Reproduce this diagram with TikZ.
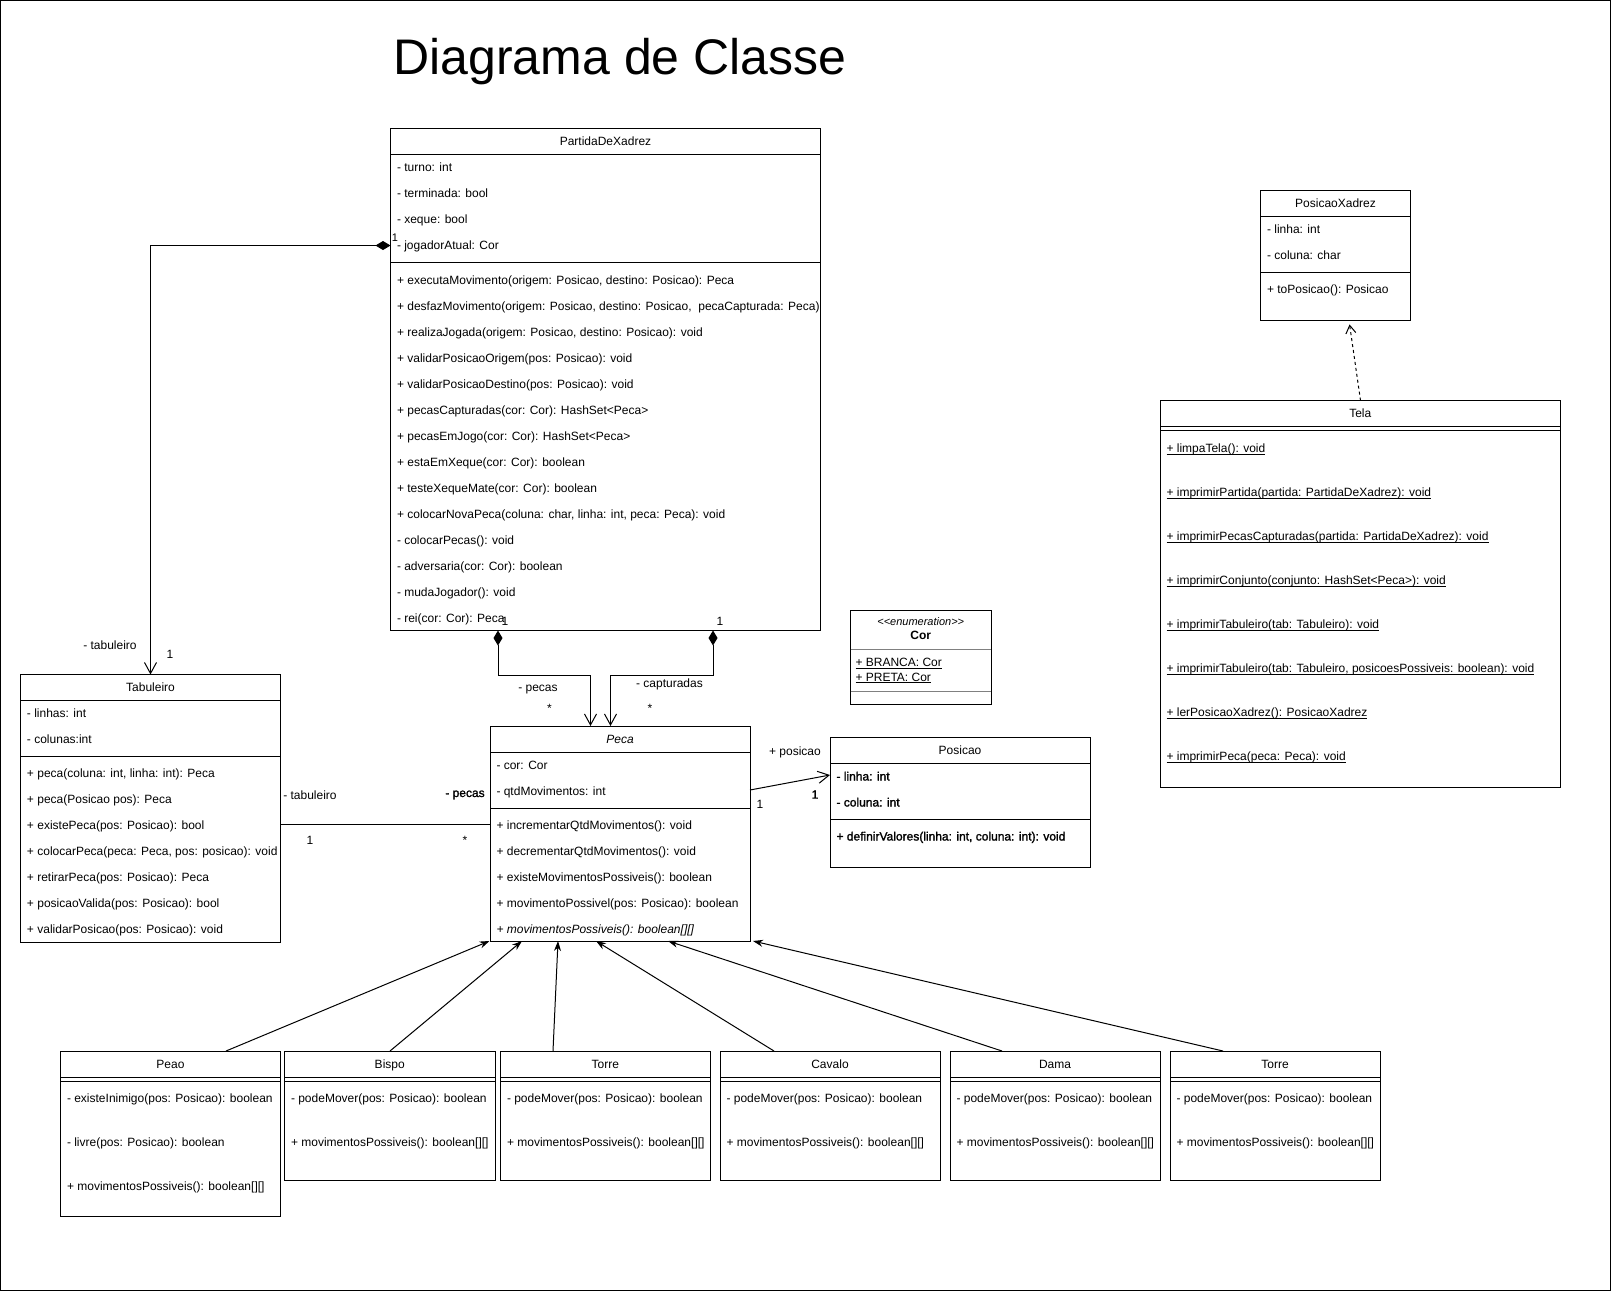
\documentclass[tikz,border=0pt]{standalone}
\usepackage{fontspec}
\setmainfont{Liberation Sans}
\newfontfamily\fakebold[FakeBold=1.6]{Liberation Sans}
\usetikzlibrary{arrows.meta}
\newcommand{\stat}[1]{\underline{\smash{#1}}}
\tikzset{
  classbox/.style={draw, rectangle, inner sep=0pt, outer sep=0pt, anchor=north west},
  rowtext/.style={anchor=base west, inner sep=0pt, font=\fontsize{12}{14}\selectfont},
  boldrow/.style={rowtext, font=\fontsize{12}{14}\selectfont\fakebold},
  classname/.style={anchor=base, inner sep=0pt, font=\fontsize{12}{14}\selectfont},
  lbl/.style={inner sep=0pt, font=\fontsize{12}{14}\selectfont},
  comp/.style={{Diamond[length=15pt,width=9pt]}-{Straight Barb[length=11pt,width=12pt]}},
  assoc/.style={-{Straight Barb[length=11pt,width=12pt]}},
  inherit/.style={-{Stealth[length=10pt,width=7pt]}},
  depend/.style={dashed, -{Straight Barb[length=8pt,width=10pt]}, shorten >=4pt},
}
\begin{document}
\begin{tikzpicture}[x=1pt,y=-1pt,line width=1pt]
  \useasboundingbox (0,0) rectangle (1611,1291);
  \draw (0.5,0.5) rectangle (1610.5,1290.5);
  \node[anchor=base west, inner sep=0pt, font=\fontsize{50}{60}\selectfont] (title) at (393,74) {Diagrama de Classe};

  % PartidaDeXadrez
  \node[classbox, minimum width=430pt, minimum height=502pt] (partida) at (390.5,128.5) {};
  \node[classname] (partida-name) at (605.5,145.5) {PartidaDeXadrez};
  \draw (partida.west |- 0,154.5) -- (partida.east |- 0,154.5);
  \draw (partida.west |- 0,262.5) -- (partida.east |- 0,262.5);
  \foreach \t [count=\i] in {{- turno: int},{- terminada: bool},{- xeque: bool},{- jogadorAtual: Cor}}
    \node[rowtext] (partida-a\i) at (396.5,{145.5+26*\i}) {\t};
  \foreach \t [count=\i] in {
      {+ executaMovimento(origem: Posicao, destino: Posicao): Peca},
      {+ desfazMovimento(origem: Posicao, destino: Posicao,\ \ pecaCapturada: Peca)},
      {+ realizaJogada(origem: Posicao, destino: Posicao): void},
      {+ validarPosicaoOrigem(pos: Posicao): void},
      {+ validarPosicaoDestino(pos: Posicao): void},
      {+ pecasCapturadas(cor: Cor): HashSet<Peca>},
      {+ pecasEmJogo(cor: Cor): HashSet<Peca>},
      {+ estaEmXeque(cor: Cor): boolean},
      {+ testeXequeMate(cor: Cor): boolean},
      {+ colocarNovaPeca(coluna: char, linha: int, peca: Peca): void},
      {- colocarPecas(): void},
      {- adversaria(cor: Cor): boolean},
      {- mudaJogador(): void},
      {- rei(cor: Cor): Peca}}
    \node[rowtext] (partida-m\i) at (396.5,{258+26*\i}) {\t};

  % Tabuleiro
  \node[classbox, minimum width=260pt, minimum height=268pt] (tab) at (20.5,674.5) {};
  \node[classname] (tab-name) at (150.5,691.5) {Tabuleiro};
  \draw (tab.west |- 0,700.5) -- (tab.east |- 0,700.5);
  \draw (tab.west |- 0,756.5) -- (tab.east |- 0,756.5);
  \foreach \t [count=\i] in {{- linhas: int},{- colunas:int}}
    \node[rowtext] (tab-a\i) at (26.5,{691.5+26*\i}) {\t};
  \foreach \t [count=\i] in {
      {+ peca(coluna: int, linha: int): Peca},
      {+ peca(Posicao pos): Peca},
      {+ existePeca(pos: Posicao): bool},
      {+ colocarPeca(peca: Peca, pos: posicao): void},
      {+ retirarPeca(pos: Posicao): Peca},
      {+ posicaoValida(pos: Posicao): bool},
      {+ validarPosicao(pos: Posicao): void}}
    \node[rowtext] (tab-m\i) at (26.5,{751.5+26*\i}) {\t};

  % Peca
  \node[classbox, minimum width=260pt, minimum height=215pt] (peca) at (490,726) {};
  \node[classname] (peca-name) at (620,743) {\itshape Peca};
  \draw (peca.west |- 0,752) -- (peca.east |- 0,752);
  \draw (peca.west |- 0,808) -- (peca.east |- 0,808);
  \foreach \t [count=\i] in {{- cor: Cor},{- qtdMovimentos: int}}
    \node[rowtext] (peca-a\i) at (496,{743+26*\i}) {\t};
  \foreach \t [count=\i] in {
      {+ incrementarQtdMovimentos(): void},
      {+ decrementarQtdMovimentos(): void},
      {+ existeMovimentosPossiveis(): boolean},
      {+ movimentoPossivel(pos: Posicao): boolean},
      {\itshape + movimentosPossiveis(): boolean[][]}}
    \node[rowtext] (peca-m\i) at (496,{803+26*\i}) {\t};

  % Posicao
  \node[classbox, minimum width=260pt, minimum height=129.5pt] (posicao) at (830,737.5) {};
  \node[classname] (posicao-name) at (960,754.5) {Posicao};
  \draw (posicao.west |- 0,763.5) -- (posicao.east |- 0,763.5);
  \draw (posicao.west |- 0,819.5) -- (posicao.east |- 0,819.5);
  \node[boldrow] (posicao-a1) at (836,780.5) {- linha: int};
  \node[boldrow] (posicao-a2) at (836,806.5) {- coluna: int};
  \node[boldrow] (posicao-m1) at (836,840.5) {+ definirValores(linha: int, coluna: int): void};

  % Cor
  \node[classbox, minimum width=140.5pt, minimum height=94pt] (cor) at (850.5,610.5) {};
  \node[lbl, font=\fontsize{11}{13}\selectfont\itshape] (cor-stereo) at (920.75,621.5) {<{}<enumeration>{}>};
  \node[classname, font=\fontsize{12}{14}\selectfont\bfseries] (cor-name) at (920.75,639) {Cor};
  \draw[line width=0.6pt, gray] (cor.west |- 0,649.5) -- (cor.east |- 0,649.5);
  \draw[line width=0.6pt, gray] (cor.west |- 0,691) -- (cor.east |- 0,691);
  \node[rowtext] (cor-v1) at (855,666.5) {\stat{+ BRANCA: Cor}};
  \node[rowtext] (cor-v2) at (855,681) {\stat{+ PRETA: Cor}};

  % PosicaoXadrez
  \node[classbox, minimum width=150pt, minimum height=130.5pt] (posxad) at (1260.5,190) {};
  \node[classname] (posxad-name) at (1335.5,207) {PosicaoXadrez};
  \draw (posxad.west |- 0,216) -- (posxad.east |- 0,216);
  \draw (posxad.west |- 0,272) -- (posxad.east |- 0,272);
  \foreach \t [count=\i] in {{- linha: int},{- coluna: char}}
    \node[rowtext] (posxad-a\i) at (1266.5,{207+26*\i}) {\t};
  \node[rowtext] (posxad-m1) at (1266.5,293) {+ toPosicao(): Posicao};

  % Tela
  \node[classbox, minimum width=400.5pt, minimum height=386.5pt] (tela) at (1160,400.5) {};
  \node[classname] (tela-name) at (1360.25,417.5) {Tela};
  \draw (tela.west |- 0,426.5) -- (tela.east |- 0,426.5);
  \draw (tela.west |- 0,430.5) -- (tela.east |- 0,430.5);
  \foreach \t [count=\i] in {
      {+ limpaTela(): void},
      {+ imprimirPartida(partida: PartidaDeXadrez): void},
      {+ imprimirPecasCapturadas(partida: PartidaDeXadrez): void},
      {+ imprimirConjunto(conjunto: HashSet<Peca>): void},
      {+ imprimirTabuleiro(tab: Tabuleiro): void},
      {+ imprimirTabuleiro(tab: Tabuleiro, posicoesPossiveis: boolean): void},
      {+ lerPosicaoXadrez(): PosicaoXadrez},
      {+ imprimirPeca(peca: Peca): void}}
    \node[rowtext] (tela-m\i) at (1166,{408.5+44*\i}) {\stat{\t}};

  % subclasses of Peca
  \foreach \cls/\x/\w/\h/\t in {peao/60.5/220/165.5/Peao, bispo/284.5/210.5/129.5/Bispo,
      torre/500.5/209.5/129.5/Torre, cavalo/720/220/129.5/Cavalo,
      dama/950/210/129.5/Dama, torre2/1170/210/129.5/Torre} {
    \node[classbox, minimum width=\w pt, minimum height=\h pt] (\cls) at (\x,1051) {};
    \node[classname] (\cls-name) at (\cls.north |- 0,1068) {\t};
    \draw (\cls.west |- 0,1077) -- (\cls.east |- 0,1077);
    \draw (\cls.west |- 0,1081) -- (\cls.east |- 0,1081);
  }
  \node[rowtext] (peao-m1) at (66.5,1102) {- existeInimigo(pos: Posicao): boolean};
  \node[rowtext] (peao-m2) at (66.5,1146) {- livre(pos: Posicao): boolean};
  \node[rowtext] (peao-m3) at (66.5,1190) {+ movimentosPossiveis(): boolean[][]};
  \foreach \cls/\x in {bispo/284.5, torre/500.5, cavalo/720, dama/950, torre2/1170} {
    \node[rowtext] (\cls-m1) at ({\x+6},1102) {- podeMover(pos: Posicao): boolean};
    \node[rowtext] (\cls-m2) at ({\x+6},1146) {+ movimentosPossiveis(): boolean[][]};
  }

  % associations
  \draw[comp] (partida.west |- 0,245.5) -| (tab.north -| 150.5,0);
  \node[lbl, font=\fontsize{11}{13}\selectfont] (l-one1) at (395,238) {1};
  \node[lbl] (l-tab1) at (110,645) {- tabuleiro};
  \node[lbl] (l-one2) at (170,654.5) {1};

  \draw[comp] (partida.south -| 498,0) |- (590.5,675) -- (peca.north -| 590.5,0);
  \node[lbl] (l-one3) at (505,621) {1};
  \node[lbl] (l-pecas1) at (538,689.5) {- pecas};
  \node[lbl] (l-star1) at (549.5,708) {*};

  \draw[comp] (partida.south -| 713,0) |- (610.5,675) -- (peca.north -| 610.5,0);
  \node[lbl] (l-one4) at (720,621) {1};
  \node[lbl] (l-capt) at (669.5,684.5) {- capturadas};
  \node[lbl] (l-star2) at (650,708) {*};

  \draw (tab.east |- 0,824.5) -- (peca.west |- 0,824.5);
  \node[lbl] (l-tab2) at (310,795) {- tabuleiro};
  \node[lbl] (l-one5) at (310,840) {1};
  \node[lbl, font=\fontsize{12}{14}\selectfont\fakebold] (l-pecas2) at (465,795) {- pecas};
  \node[lbl] (l-star3) at (465,840) {*};

  \draw[assoc] (peca.east |- 0,790) -- (posicao.west |- 0,775);
  \node[lbl] (l-pos) at (795,752) {+ posicao};
  \node[lbl, font=\fontsize{12}{14}\selectfont\fakebold] (l-one6) at (815,794.5) {1};
  \node[lbl] (l-one7) at (760,804.5) {1};

  \draw[depend] (tela.north -| 1360.5,0) -- (posxad.south -| 1349,0);

  \foreach \cls/\sx/\ex in {peao/226/489.5, bispo/390/522, torre/553/558,
      cavalo/774/596, dama/1002/668, torre2/1223/753}
    \draw[inherit] (\cls.north -| \sx,0) -- (peca.south -| \ex,0);
\end{tikzpicture}
\end{document}
